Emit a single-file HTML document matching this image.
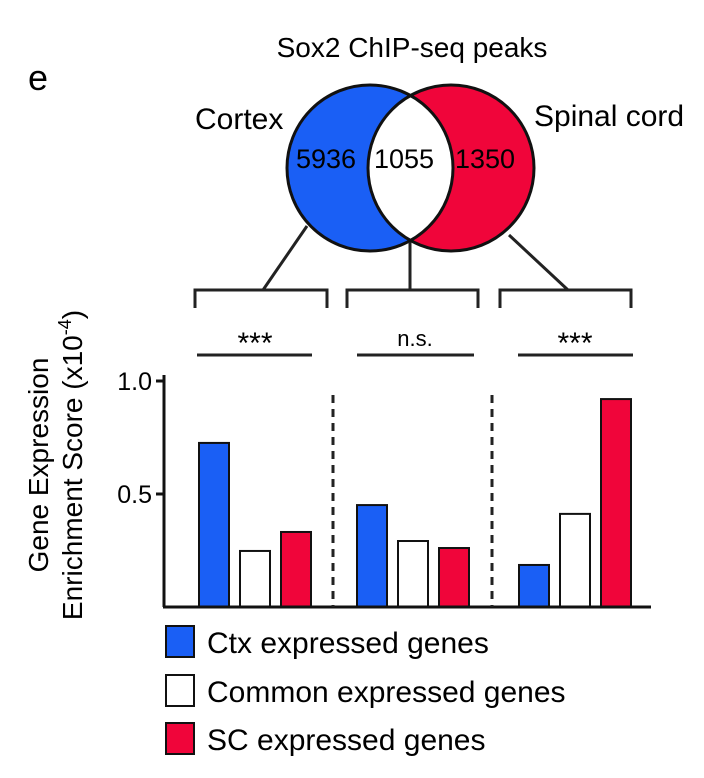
<!DOCTYPE html>
<html><head><meta charset="utf-8"><style>
html,body{margin:0;padding:0;background:#fff;}
svg{display:block;font-family:"Liberation Sans",Arial,sans-serif;}
</style></head><body>
<svg id="fig" width="704" height="778" viewBox="0 0 704 778">
<text x="28" y="90" font-size="36">e</text>
<text x="412" y="57" font-size="28" text-anchor="middle">Sox2 ChIP-seq peaks</text>
<defs>
<clipPath id="cl"><circle cx="370" cy="168" r="83"/></clipPath>
</defs>
<circle cx="370" cy="168" r="83" fill="#1a5ff5"/>
<circle cx="451" cy="168" r="83" fill="#f0053a"/>
<circle cx="451" cy="168" r="83" fill="#fff" clip-path="url(#cl)"/>
<circle cx="370" cy="168" r="83" fill="none" stroke="#111" stroke-width="3"/>
<circle cx="451" cy="168" r="83" fill="none" stroke="#111" stroke-width="3"/>
<text x="195" y="129" font-size="30">Cortex</text>
<text x="534" y="126" font-size="30">Spinal cord</text>
<text x="326" y="168" font-size="27" text-anchor="middle">5936</text>
<text x="404" y="168" font-size="27" text-anchor="middle">1055</text>
<text x="485" y="168" font-size="27" text-anchor="middle">1350</text>
<g stroke="#222" stroke-width="3" fill="none">
<line x1="307" y1="226" x2="263" y2="290"/>
<line x1="410" y1="242" x2="410" y2="290"/>
<line x1="509" y1="235" x2="568" y2="290"/>
<polyline points="195,308 195,290 327,290 327,308"/>
<polyline points="347,308 347,290 478,290 478,308"/>
<polyline points="500,308 500,290 631,290 631,308"/>
<line x1="197" y1="355" x2="312" y2="355"/>
<line x1="357" y1="355" x2="474" y2="355"/>
<line x1="518" y1="355" x2="633" y2="355"/>
</g>
<text x="255" y="353" font-size="30" text-anchor="middle">***</text>
<text x="415" y="346" font-size="22" text-anchor="middle">n.s.</text>
<text x="575" y="353" font-size="30" text-anchor="middle">***</text>
<g id="chart"></g>
<g transform="translate(48,465) rotate(-90)">
<text x="0" y="0" font-size="28" text-anchor="middle">Gene Expression</text>
<text x="0" y="34" font-size="28" text-anchor="middle">Enrichment Score (x10<tspan dy="-11" font-size="18">-4</tspan><tspan dy="11">)</tspan></text>
</g>
<rect x="166" y="626" width="28" height="31" fill="#1a5ff5" stroke="#111" stroke-width="2"/>
<text x="207" y="653" font-size="30">Ctx expressed genes</text>
<rect x="166" y="675" width="28" height="31" fill="#fff" stroke="#111" stroke-width="2"/>
<text x="207" y="702" font-size="30">Common expressed genes</text>
<rect x="166" y="723" width="28" height="31" fill="#f0053a" stroke="#111" stroke-width="2"/>
<text x="207" y="750" font-size="30">SC expressed genes</text>
</svg>
<script>
const groups = ["Cortex peaks", "Common peaks", "Spinal cord peaks"];
const ctxValues = [0.726, 0.451, 0.186];
const commonValues = [0.248, 0.292, 0.412];
const scValues = [0.332, 0.261, 0.92];
const tickValues = [0.5, 1.0];
const tickLabels = ["0.5", "1.0"];

const NS = "http://www.w3.org/2000/svg";
const g = document.getElementById("chart");
const y0 = 607, pxPerUnit = 226;
function y(v){ return y0 - v * pxPerUnit; }
const groupStart = [199, 357, 519];
const barOffset = [0, 41, 82];
const barW = 30;
function mk(tag, attrs){ const e = document.createElementNS(NS, tag); for (const k in attrs) e.setAttribute(k, attrs[k]); g.appendChild(e); return e; }
const series = [ctxValues, commonValues, scValues];
const colors = ["#1a5ff5", "#fff", "#f0053a"];
const sNames = ["ctx", "common", "sc"];
groups.forEach((gr, i) => {
  series.forEach((vals, s) => {
    const r = mk("rect", {x: groupStart[i] + barOffset[s], y: y(vals[i]), width: barW, height: y0 - y(vals[i]), fill: colors[s], stroke: "#111", "stroke-width": 2});
    
    
  });
});
const ax = mk("line", {x1: 164, y1: y0, x2: 164, y2: 375, stroke: "#111", "stroke-width": 3});


const base = mk("line", {x1: 163, y1: y0, x2: 651, y2: y0, stroke: "#111", "stroke-width": 3});


tickValues.forEach((v, i) => {
  const t = mk("line", {x1: 156, y1: y(v), x2: 164, y2: y(v), stroke: "#111", "stroke-width": 3});
  
  
  const tx = mk("text", {x: 152, y: y(v) + 9, "font-size": 25, "text-anchor": "end"});
  tx.textContent = tickLabels[i];
  
  
});
[333, 492].forEach(x => {
  const d = mk("line", {x1: x, y1: 395, x2: x, y2: y0, stroke: "#222", "stroke-width": 3, "stroke-dasharray": "8,6"});
  
  
});
</script>
</body></html>
